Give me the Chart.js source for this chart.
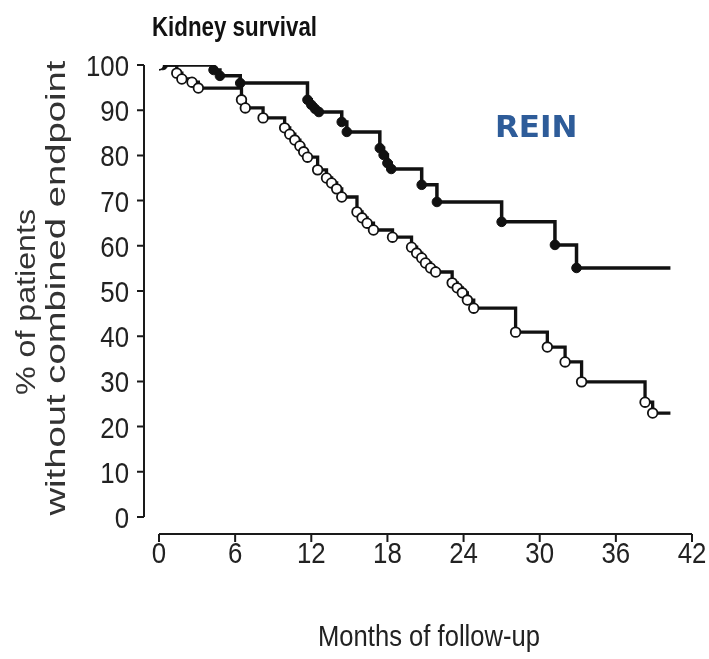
<!DOCTYPE html>
<html>
<head>
<meta charset="utf-8">
<script src="https://cdn.jsdelivr.net/npm/chart.js@4.4.1/dist/chart.umd.min.js"></script>
<style>
  html, body { margin: 0; padding: 0; background: #ffffff; }
  #wrap { width: 709px; height: 659px; position: relative; }
</style>
</head>
<body>
<div id="wrap"><canvas id="chart"></canvas></div>
<script>
// Axis ticks
const xTickValues = [0, 6, 12, 18, 24, 30, 36, 42];
const yTickValues = [0, 10, 20, 30, 40, 50, 60, 70, 80, 90, 100];

// Filled-marker arm: step times (months) and % survival after each step
const filledMonths = [0, 0.3, 4.3, 4.8, 6.4, 11.7, 12.0, 12.3, 12.6, 14.4, 14.8, 17.4, 17.7, 18.0, 18.3, 20.7, 21.9, 27.0, 31.2, 32.9];
const filledPct    = [100, 100, 98.9, 97.6, 96.0, 92.3, 91.2, 90.3, 89.6, 87.4, 85.2, 81.6, 80.1, 78.3, 77.0, 73.5, 69.7, 65.3, 60.2, 55.1];
const filledLastMonth = 40.3;

// Open-marker arm: step times (months) and % survival after each step
const openMonths = [0, 1.4, 1.8, 2.6, 3.1, 6.5, 6.8, 8.2, 9.9, 10.3, 10.7, 11.1, 11.4, 11.7, 12.5, 13.2, 13.6, 14.0, 14.4, 15.6, 16.0, 16.4, 16.9, 18.4, 19.9, 20.3, 20.7, 21.0, 21.4, 21.8, 23.1, 23.5, 23.9, 24.3, 24.8, 28.1, 30.6, 32.0, 33.3, 38.3, 38.9];
const openPct    = [100, 98.2, 96.9, 96.2, 94.9, 92.3, 90.5, 88.3, 86.1, 84.7, 83.4, 82.1, 80.8, 79.6, 76.8, 75.0, 73.9, 72.6, 70.8, 67.5, 66.2, 65.0, 63.5, 61.9, 59.7, 58.4, 57.3, 56.2, 55.1, 54.2, 51.8, 50.7, 49.6, 48.0, 46.2, 40.9, 37.6, 34.3, 29.9, 25.4, 23.0];
const openLastMonth = 40.3;

// Texts
const chartTitle = 'Kidney survival';
const studyLabel = 'REIN';
const yTitleLines = ['% of patients', 'without combined endpoint'];
const xTitle = 'Months of follow-up';

const SANS = '"Liberation Sans", Arial, sans-serif';

function stepSeries(months, pct, lastMonth) {
  const pts = months.map((m, i) => ({ x: m, y: pct[i] }));
  pts.push({ x: lastMonth, y: pct[pct.length - 1] });
  return pts;
}

// Text squeezed or stretched horizontally by sx (condensed typeface look)
function scaledText(ctx, text, x, y, sx, align) {
  ctx.save();
  ctx.translate(x, y);
  ctx.scale(sx, 1);
  ctx.textAlign = align;
  ctx.fillText(text, 0, 0);
  ctx.restore();
}

// Text fitted to a given run length
function fittedText(ctx, text, x, y, width, align) {
  const w = ctx.measureText(text).width;
  scaledText(ctx, text, x, y, width / w, align);
}

// Draws detached axes with their tick labels, axis titles and free labels
const decorations = {
  id: 'decorations',
  afterDraw(chart) {
    const { ctx, scales: { x, y } } = chart;
    const axisX = x.getPixelForValue(0) - 15;
    const axisY = y.getPixelForValue(0) + 17;
    ctx.save();
    ctx.strokeStyle = '#1a1a1a';
    ctx.lineWidth = 2;
    ctx.beginPath();
    ctx.moveTo(axisX, y.getPixelForValue(100));
    ctx.lineTo(axisX, y.getPixelForValue(0));
    yTickValues.forEach(v => {
      const py = y.getPixelForValue(v);
      ctx.moveTo(axisX - 7, py);
      ctx.lineTo(axisX, py);
    });
    ctx.moveTo(x.getPixelForValue(0), axisY);
    ctx.lineTo(x.getPixelForValue(42), axisY);
    xTickValues.forEach(v => {
      const px = x.getPixelForValue(v);
      ctx.moveTo(px, axisY);
      ctx.lineTo(px, axisY + 8);
    });
    ctx.stroke();

    // tick labels
    ctx.fillStyle = '#222';
    ctx.textBaseline = 'alphabetic';
    ctx.font = '30px ' + SANS;
    yTickValues.forEach(v => {
      scaledText(ctx, String(v), axisX - 15, y.getPixelForValue(v) + 11, 0.86, 'right');
    });
    xTickValues.forEach(v => {
      scaledText(ctx, String(v), x.getPixelForValue(v), axisY + 29, 0.86, 'center');
    });

    // chart title
    ctx.fillStyle = '#111';
    ctx.font = 'bold 28px ' + SANS;
    fittedText(ctx, chartTitle, 152, 36, 165, 'left');

    // study label
    ctx.fillStyle = '#2e5c99';
    ctx.font = 'bold 31px "DejaVu Sans", sans-serif';
    ctx.textAlign = 'left';
    ctx.fillText(studyLabel, 495, 137);

    // x title
    ctx.fillStyle = '#222';
    ctx.font = '29px ' + SANS;
    fittedText(ctx, xTitle, 429, 646, 222, 'center');

    // y title, two rotated lines
    ctx.fillStyle = '#333';
    ctx.font = '27px ' + SANS;
    ctx.textBaseline = 'middle';
    const lines = [
      { text: yTitleLines[0], cx: 28, cy: 302, len: 186 },
      { text: yTitleLines[1], cx: 58, cy: 288, len: 455 }
    ];
    lines.forEach(l => {
      ctx.save();
      ctx.translate(l.cx, l.cy);
      ctx.rotate(-Math.PI / 2);
      fittedText(ctx, l.text, 0, 0, l.len, 'center');
      ctx.restore();
    });
    ctx.restore();
  }
};

const pointRadiusFor = (n, skipFirst) => ctx => {
  const i = ctx.dataIndex;
  if (i === n - 1) return 0;
  if (skipFirst && i === 0) return 0;
  return 4.8;
};

const openData = stepSeries(openMonths, openPct, openLastMonth);
const filledData = stepSeries(filledMonths, filledPct, filledLastMonth);

new Chart(document.getElementById('chart'), {
  type: 'scatter',
  data: {
    datasets: [
      {
        label: 'open',
        data: openData,
        showLine: true,
        stepped: 'before',
        borderColor: '#111',
        borderWidth: 3.3,
        pointBackgroundColor: '#ffffff',
        pointBorderColor: '#111',
        pointBorderWidth: 1.8,
        pointRadius: pointRadiusFor(openData.length, false),
        pointHoverRadius: 0
      },
      {
        label: 'filled',
        data: filledData,
        showLine: true,
        stepped: 'before',
        borderColor: '#111',
        borderWidth: 3.5,
        pointBackgroundColor: '#111',
        pointBorderColor: '#111',
        pointBorderWidth: 1,
        pointRadius: pointRadiusFor(filledData.length, true),
        pointHoverRadius: 0
      }
    ]
  },
  options: {
    responsive: true,
    maintainAspectRatio: false,
    animation: false,
    events: [],
    layout: { padding: { top: 65, right: 17, left: 0, bottom: 0 } },
    plugins: { legend: { display: false }, title: { display: false }, tooltip: { enabled: false } },
    scales: {
      x: {
        type: 'linear',
        min: 0, max: 42,
        afterBuildTicks: s => { s.ticks = xTickValues.map(v => ({ value: v })); },
        afterFit: s => { s.height = 142; },
        grid: { display: false, drawTicks: false },
        border: { display: false },
        ticks: { display: false }
      },
      y: {
        type: 'linear',
        min: 0, max: 100,
        afterBuildTicks: s => { s.ticks = yTickValues.map(v => ({ value: v })); },
        afterFit: s => { s.width = 159; },
        grid: { display: false, drawTicks: false },
        border: { display: false },
        ticks: { display: false }
      }
    }
  },
  plugins: [decorations]
});
</script>
</body>
</html>
